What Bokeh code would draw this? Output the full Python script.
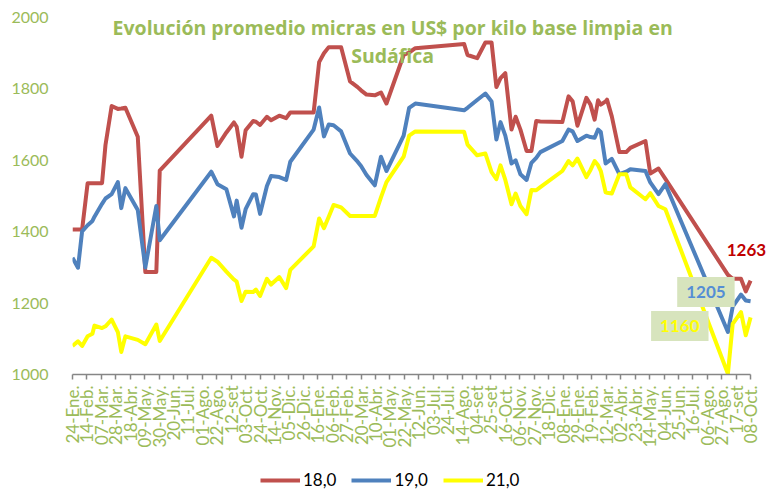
import math
from bokeh.plotting import figure
from bokeh.layouts import column
from bokeh.models import ColumnDataSource, Range1d, FixedTicker, Label, Legend, LegendItem
from bokeh.embed import file_html
from bokeh.resources import INLINE

# ---------------- data (days counted from 24-Ene-2013) ----------------
day_offsets = [
    0, 8, 14, 22, 29, 32, 43, 48, 57, 66, 71, 77, 95, 106, 122, 127,
    202, 211, 224, 235, 239, 246, 252, 263, 267, 273, 283, 289, 301, 311, 317,
    351, 359, 366, 373, 380, 391, 404, 415, 420, 428, 440, 449, 457, 482, 490, 499,
    570, 575, 589, 601, 610, 617, 623, 630, 639, 645, 652, 661, 668, 675, 681,
    713, 722, 728, 735, 748, 754, 760, 765, 769, 776, 778, 785, 796, 806, 812,
    834, 841, 853, 863,
    954, 961, 973, 980, 987,
]
micron_18 = [
    1406, 1406, 1406, 1536, 1536, 1536, 1536, 1643, 1752, 1744, 1745, 1747, 1666, 1287, 1287, 1571,
    1725, 1640, 1678, 1706, 1694, 1610, 1684, 1710, 1708, 1699, 1722, 1712, 1725, 1718, 1734,
    1734, 1875, 1900, 1917, 1917, 1917, 1821, 1805, 1796, 1784, 1782, 1790, 1759, 1895, 1902, 1914,
    1926, 1895, 1886, 1930, 1930, 1805, 1830, 1844, 1686, 1722, 1686, 1626, 1626, 1710, 1709,
    1707, 1779, 1765, 1697, 1775, 1756, 1714, 1768, 1756, 1765, 1770, 1723, 1623, 1623, 1635,
    1654, 1563, 1577, 1548,
    1279, 1268, 1268, 1233, 1263,
]
micron_19 = [
    1327, 1299, 1401, 1418, 1430, 1442, 1478, 1493, 1505, 1539, 1466, 1522, 1461, 1300, 1472, 1376,
    1568, 1533, 1519, 1443, 1487, 1411, 1463, 1505, 1504, 1450, 1528, 1556, 1553, 1545, 1596,
    1686, 1748, 1667, 1700, 1698, 1681, 1619, 1596, 1584, 1559, 1530, 1610, 1570, 1669, 1747, 1759,
    1740, 1747, 1769, 1787, 1765, 1658, 1707, 1669, 1591, 1600, 1561, 1545, 1593, 1607, 1623,
    1654, 1686, 1681, 1654, 1669, 1665, 1663, 1686, 1679, 1591, 1594, 1604, 1561, 1568, 1575,
    1570, 1538, 1505, 1533,
    1119, 1190, 1224, 1207, 1205,
]
micron_21 = [
    1080, 1093, 1080, 1107, 1114, 1137, 1130, 1135, 1154, 1119, 1063, 1107, 1097, 1085, 1140, 1094,
    1327, 1316, 1288, 1266, 1260, 1206, 1232, 1231, 1238, 1220, 1268, 1252, 1273, 1242, 1293,
    1359, 1437, 1410, 1442, 1475, 1468, 1444, 1444, 1444, 1444, 1444, 1496, 1539, 1610, 1669, 1681,
    1680, 1644, 1614, 1619, 1567, 1547, 1586, 1545, 1477, 1507, 1472, 1449, 1517, 1516, 1525,
    1570, 1598, 1586, 1605, 1553, 1573, 1598, 1586, 1570, 1510, 1509, 1507, 1561, 1561, 1524,
    1491, 1508, 1472, 1463,
    1002, 1142, 1175, 1110, 1160,
]
series_names = ["18,0", "19,0", "21,0"]
last_values = ["1263", "1205", "1160"]

tick_step_days = 21
tick_labels = [
    "24-Ene.", "14-Feb.", "07-Mar.", "28-Mar.", "18-Abr.", "09-May.", "30-May.", "20-Jun.",
    "11-Jul.", "01-Ago.", "22-Ago.", "12-set", "03-Oct.", "24-Oct.", "14-Nov.", "05-Dic.",
    "26-Dic.", "16-Ene.", "06-Feb.", "27-Feb.", "20-Mar.", "10-Abr.", "01-May.", "22-May.",
    "12-Jun.", "03-Jul.", "24-Jul.", "14-Ago.", "04-set", "25-set", "16-Oct.", "06-Nov.",
    "27-Nov.", "18-Dic.", "08-Ene.", "29-Ene.", "19-Feb.", "12-Mar.", "02-Abr.", "23-Abr.",
    "14-May.", "04-Jun.", "25-Jun.", "16-Jul.", "06-Ago.", "27-Ago.", "17-set", "08-Oct.",
]
y_ticks = [1000, 1200, 1400, 1600, 1800, 2000]
title_lines = ["Evolución promedio micras en US$ por kilo base limpia en", "Sudáfica"]

# ---------------- styling ----------------
GREEN = "#9BBB59"
COLORS = ["#C0504D", "#4F81BD", "#FFFF00"]
FONT = "Lato"

x_ticks = [i * tick_step_days for i in range(len(tick_labels))]
x_end_pad = 29  # extra room at right for the end label

p = figure(width=773, height=450, output_backend="svg", toolbar_location=None,
           x_range=Range1d(x_ticks[0], x_ticks[-1] + x_end_pad),
           y_range=Range1d(y_ticks[0], y_ticks[-1]),
           min_border_left=72, min_border_right=3, min_border_top=17, min_border_bottom=74)
p.outline_line_color = None
p.xgrid.visible = False
p.ygrid.visible = False
p.background_fill_color = "white"
p.border_fill_color = "white"

src = ColumnDataSource(dict(x=day_offsets, s18=micron_18, s19=micron_19, s21=micron_21))
for key, col in zip(["s18", "s19", "s21"], COLORS):
    p.line("x", key, source=src, line_color=col, line_width=4, line_join="round")

# x axis
xa = p.xaxis[0]
xa.bounds = (x_ticks[0], x_ticks[-1])
xa.ticker = FixedTicker(ticks=x_ticks, minor_ticks=[])
xa.major_label_overrides = {t: lab for t, lab in zip(x_ticks, tick_labels)}
xa.major_label_orientation = math.pi / 2
xa.major_label_text_color = GREEN
xa.major_label_text_font = FONT
xa.major_label_text_font_size = "17px"
xa.major_label_standoff = 6
xa.axis_line_color = "#868686"
xa.axis_line_width = 1.5
xa.major_tick_line_color = "#868686"
xa.major_tick_line_width = 1.5
xa.major_tick_out = 5
xa.major_tick_in = 0
xa.minor_tick_line_color = None

# y axis
ya = p.yaxis[0]
ya.ticker = FixedTicker(ticks=y_ticks, minor_ticks=[])
ya.major_label_text_color = GREEN
ya.major_label_text_font = FONT
ya.major_label_text_font_size = "16px"
ya.major_label_standoff = 18
ya.axis_line_color = None
ya.major_tick_line_color = None
ya.minor_tick_line_color = None

# title overlaid in plot
title_x = 466
for line, ty in zip(title_lines, [1973, 1894]):
    p.add_layout(Label(x=title_x, y=ty, text=line, text_align="center", text_baseline="middle",
                       text_font="Open Sans", text_font_style="bold", text_font_size="19.5px",
                       text_color=GREEN))

# end-value annotations
p.add_layout(Label(x=981, y=1348, text=last_values[0], text_align="center", text_baseline="middle",
                   text_font=FONT, text_font_style="bold", text_font_size="17px", text_color="#C00000"))
p.add_layout(Label(x=922, y=1231, text=last_values[1], text_align="center", text_baseline="middle",
                   text_font=FONT, text_font_style="bold", text_font_size="17px", text_color="#558ED5",
                   background_fill_color="#D7E4BD", padding=9))
p.add_layout(Label(x=884, y=1136, text=last_values[2], text_align="center", text_baseline="middle",
                   text_font=FONT, text_font_style="bold", text_font_size="17px", text_color="#FFFF00",
                   background_fill_color="#D7E4BD", padding=9))

# legend strip underneath (key swatches only; the NaN point draws nothing)
pl = figure(width=773, height=40, output_backend="svg", toolbar_location=None,
            x_range=Range1d(0, 1), y_range=Range1d(0, 1),
            x_axis_location=None, y_axis_location=None, min_border=0)
pl.outline_line_color = None
pl.grid.visible = False
keys = [pl.line(x=[math.nan], y=[math.nan], line_color=col, line_width=4) for col in COLORS]
legend = Legend(items=[LegendItem(label=n, renderers=[r]) for n, r in zip(series_names, keys)],
                orientation="horizontal", location=(188, 0),
                glyph_width=40, glyph_height=18, label_height=18, label_standoff=3, spacing=15,
                padding=0, margin=0, border_line_color=None, background_fill_alpha=0,
                label_text_font=FONT, label_text_font_size="17px", label_text_color="black")
pl.add_layout(legend)

layout = column(p, pl, spacing=0)
open("out.html", "w").write(file_html(layout, INLINE))
